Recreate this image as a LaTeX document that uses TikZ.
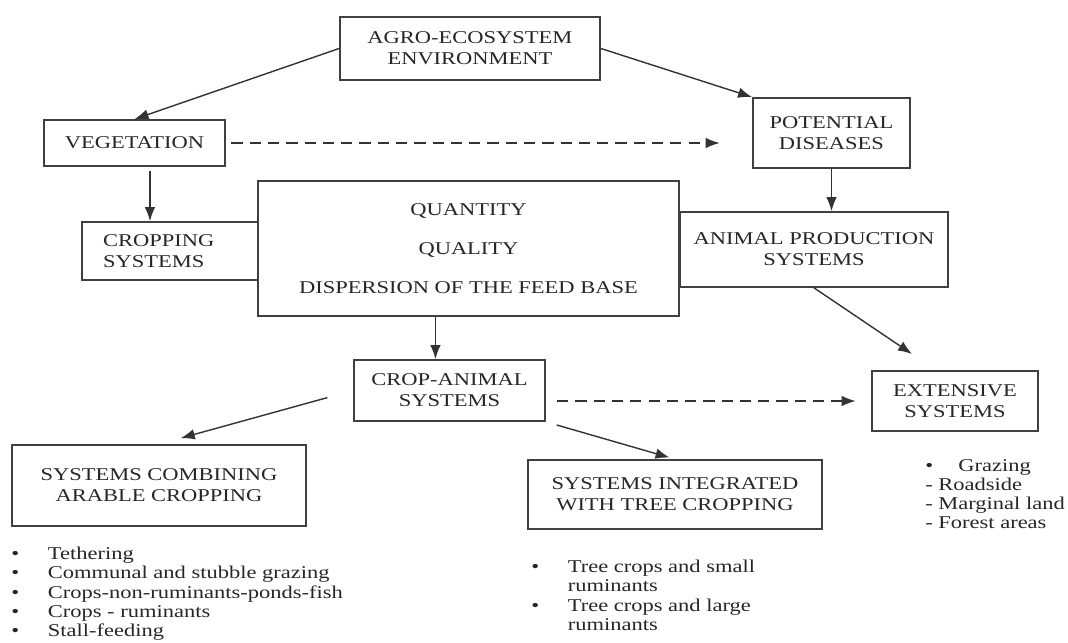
\documentclass[tikz,border=0pt]{standalone}
\usepackage{fontspec}
\setmainfont{Liberation Serif}[FakeStretch=1.25]
\usetikzlibrary{arrows.meta}

\newcommand{\bul}{\makebox[26pt][l]{\textbullet}}

\tikzset{
  box/.style={draw=black!75, line width=1.2pt, align=center, inner sep=0pt, text=black!85},
  arr/.style={-{Latex[length=10pt,width=7.5pt]}, line width=1pt, draw=black!80},
  darr/.style={arr, dash pattern=on 8pt off 5pt},
  lst/.style={anchor=north west, inner sep=0pt, align=left, text=black!85, font=\fontsize{12.8}{13.6}\selectfont}
}

\begin{document}
\begin{tikzpicture}[x=0.025cm, y=-0.025cm, font=\fontsize{12.8}{15}\selectfont]
\useasboundingbox (0,0) rectangle (1068,643);

\node[box, minimum width=6.5cm, minimum height=1.575cm] (agro) at (470,48.5) {AGRO-ECOSYSTEM\\ENVIRONMENT};
\node[box, minimum width=4.525cm, minimum height=1.15cm] (veg) at (134.5,143) {VEGETATION};
\node[box, minimum width=3.925cm, minimum height=1.75cm] (dis) at (831.5,133) {POTENTIAL\\DISEASES};

\node[box, align=left, text width=95pt, inner xsep=15pt, minimum height=1.45cm] (crop) at (170,251) {CROPPING\\SYSTEMS};
\node[box, minimum width=10.525cm, minimum height=3.375cm, font=\fontsize{12.8}{27.7}\selectfont] (feed) at (468.5,248.5) {QUANTITY\\QUALITY\\DISPERSION OF THE FEED BASE};
\node[box, minimum width=6.7cm, minimum height=1.875cm] (anim) at (814,249.5) {ANIMAL PRODUCTION\\SYSTEMS};

\node[box, minimum width=4.775cm, minimum height=1.525cm] (crani) at (449.5,390.5) {CROP-ANIMAL\\SYSTEMS};
\node[box, minimum width=4.15cm, minimum height=1.5cm] (ext) at (955,401) {EXTENSIVE\\SYSTEMS};
\node[box, minimum width=7.35cm, minimum height=2.025cm] (arable) at (159,485.5) {SYSTEMS COMBINING\\ARABLE CROPPING};
\node[box, minimum width=7.35cm, minimum height=1.725cm] (tree) at (675,494.5) {SYSTEMS INTEGRATED\\WITH TREE CROPPING};

% lists under the boxes
\node[lst] (arablelist) at (11,547) {\bul Tethering\\\bul Communal and stubble grazing\\\bul Crops-non-ruminants-ponds-fish\\\bul Crops - ruminants\\\bul Stall-feeding};
\node[lst] (treelist) at (531,560) {\bul Tree crops and small\\\makebox[26pt]{}ruminants\\\bul Tree crops and large\\\makebox[26pt]{}ruminants};
\node[lst] (extlist) at (925,459) {\textbullet\hspace{18pt}Grazing\\- Roadside\\- Marginal land\\- Forest areas};

% connectors
\draw[arr] (agro.west) -- (veg.north);
\draw[arr] (agro.east) -- (dis.north west);
\draw[darr, shorten <=4pt, shorten >=23pt] (veg.east) -- (veg.east -| dis.west);

\coordinate (vegfoot) at ([xshift=11pt]veg.south);
\draw[arr, shorten <=3pt] (vegfoot) -- (vegfoot |- crop.north);
\draw[arr] (dis.south) -- (dis.south |- anim.north);

\coordinate (feedfoot) at ([xshift=-10pt]crani.north);
\draw[arr] (feedfoot |- feed.south) -- (feedfoot);

\draw[arr, shorten <=19pt, shorten >=16pt] (crani.west) -- (arable.north);
\draw[arr, shorten <=8pt, shorten >=4pt] (crani.south east) -- (tree.north);
\draw[darr, shorten <=8pt, shorten >=11pt] (crani.east |- ext.west) -- (ext.west);

\coordinate (exttip) at (912,354);
\draw[arr] (anim.south) -- (exttip);
\end{tikzpicture}
\end{document}
